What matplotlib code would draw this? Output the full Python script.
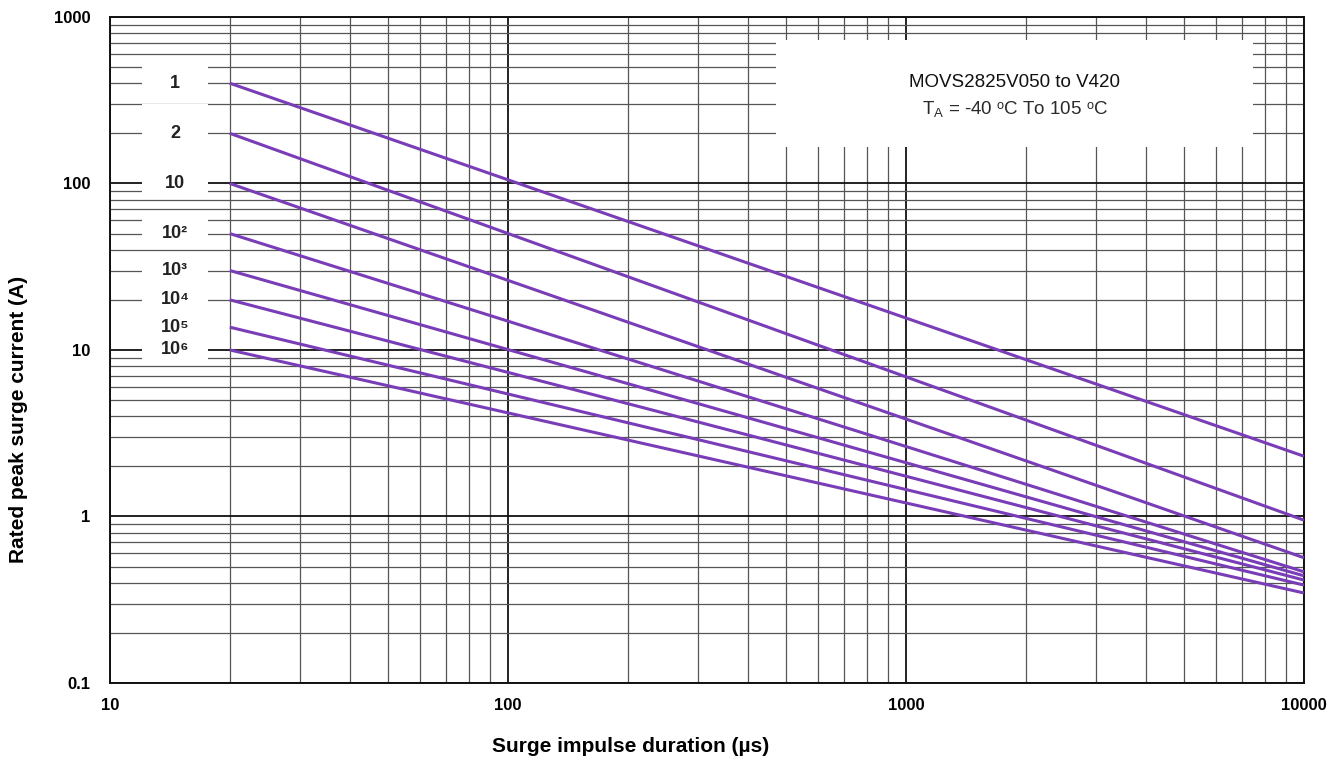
import numpy as np
import matplotlib
matplotlib.use("Agg")
import matplotlib.pyplot as plt
from matplotlib.patches import Rectangle

plt.rcParams['font.family'] = ['Liberation Sans', 'DejaVu Sans']

# surge count labels and the end points of each derating line (log-log straight lines)
labels = ["1", "2", "10", "10²", "10³", "10⁴", "10⁵", "10⁶"]
t_start = 20
t_end = 10000
i_start = [400, 200, 100, 50, 30, 20, 13.7, 10]
i_end = [2.3, 0.95, 0.565, 0.465, 0.44, 0.415, 0.387, 0.347]

xticks = [10, 100, 1000, 10000]
yticks = [0.1, 1, 10, 100, 1000]
ytick_labels = ["0.1", "1", "10", "100", "1000"]

purple = "#7a3db8"

fig = plt.figure(figsize=(13.44, 7.66), dpi=100)
ax = fig.add_axes([0.0818, 0.1084, 0.8884, 0.8695])
ax.set_xscale("log")
ax.set_yscale("log")
ax.set_xlim(10, 10000)
ax.set_ylim(0.1, 1000)

ax.set_axisbelow(True)
ax.grid(which="major", color="#111111", lw=1.3)
ax.grid(which="minor", color="#555555", lw=0.9)
ax.set_xticks(xticks)
ax.set_xticklabels([str(v) for v in xticks])
ax.set_yticks(yticks)
ax.set_yticklabels(ytick_labels)
ax.tick_params(which="both", length=0)
ax.tick_params(axis="x", pad=11, labelsize=12)
ax.tick_params(axis="y", pad=14, labelsize=12)
for lab in ax.get_xticklabels() + ax.get_yticklabels():
    lab.set_fontweight("bold")
for sp in ax.spines.values():
    sp.set_linewidth(1.4)
    sp.set_color("#111111")

# white masks behind the labels
for y0, y1 in [(0.875, 0.940), (0.729, 0.869), (0.654, 0.709), (0.480, 0.646)]:
    ax.add_patch(Rectangle((0.0265, y0), 0.0558, y1 - y0, transform=ax.transAxes,
                           facecolor="white", edgecolor="none", zorder=2))
ax.add_patch(Rectangle((0.558, 0.805), 0.399, 0.16, transform=ax.transAxes,
                       facecolor="white", edgecolor="none", zorder=2))

ytr = ax.get_yaxis_transform()
for lab, a, b in zip(labels, i_start, i_end):
    ax.plot([t_start, t_end], [a, b], color=purple, lw=2.2, zorder=3,
            solid_capstyle="butt", clip_on=False)
    ax.text(0.0544, a, lab, transform=ytr, ha="center", va="center",
            fontsize=13, fontweight="bold", color="#222222", zorder=4)

ax.text(0.758, 0.902, "MOVS2825V050 to V420", transform=ax.transAxes,
        ha="center", va="center", fontsize=13.5, color="#111111", zorder=4)
ax.text(0.758, 0.861, r"T$_\mathregular{A}$ = -40 ᵒC To 105 ᵒC", transform=ax.transAxes,
        ha="center", va="center", fontsize=13.5, color="#2a2a2a", zorder=4)

fig.text(0.4695, 0.025, "Surge impulse duration (µs)", ha="center", va="center",
         fontsize=15, fontweight="bold")
fig.text(0.0135, 0.452, "Rated peak surge current (A)", ha="center", va="center",
         rotation=90, fontsize=15, fontweight="bold")

fig.savefig("out.png", dpi=100, facecolor="white")
